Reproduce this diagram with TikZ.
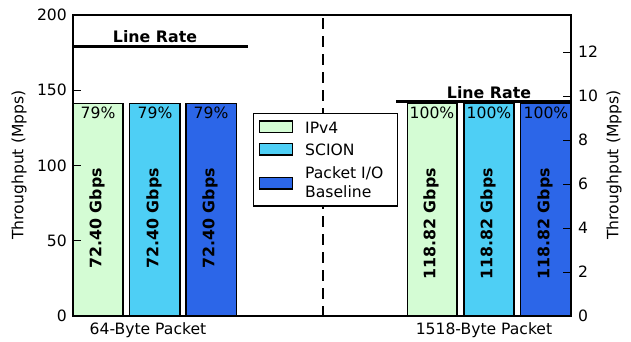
\documentclass[tikz,border=0pt]{standalone}
\usepackage{fontspec}
\setmainfont{DejaVu Sans}
\begin{document}
\begin{tikzpicture}[x=1pt,y=-1pt,
  lbl/.style={inner sep=0pt,font=\fontsize{15.6}{16}\selectfont},
  blbl/.style={inner sep=0pt,font=\fontsize{15.8}{16}\selectfont\bfseries},
  barbox/.style={draw=black,line width=1.6pt},
  tickmark/.style={line width=1pt},
  ratebar/.style={line width=2.8pt},
  patch/.style={draw=black,line width=1.5pt}]
\definecolor{ipv4c}{RGB}{212,252,212}
\definecolor{scionc}{RGB}{78,207,245}
\definecolor{basec}{RGB}{44,102,232}
\useasboundingbox (0,0) rectangle (631,341);

% bars, 64-byte group
\draw[barbox,fill=ipv4c]  (73.5,103.5) rectangle (123,316);
\draw[barbox,fill=scionc] (129.5,103.5) rectangle (180,316);
\draw[barbox,fill=basec]  (186,103.5) rectangle (236.5,316);
% bars, 1518-byte group
\draw[barbox,fill=ipv4c]  (407.5,103.5) rectangle (457,316);
\draw[barbox,fill=scionc] (464,103.5) rectangle (514,316);
\draw[barbox,fill=basec]  (520.5,103.5) rectangle (570.5,316);

% separator between the two groups
\coordinate (sepTop) at (323,18);
\coordinate (sepBot) at (323,316);
\draw[line width=1.6pt,dash pattern=on 11pt off 7pt] (sepTop) -- (sepBot);

% line rates
\coordinate (lrA) at (73,46.5);
\coordinate (lrB) at (248,46.5);
\draw[ratebar] (lrA) -- (lrB);
\node[blbl] (lrl) at (155,37) {Line Rate};
\coordinate (lrC) at (396,101.5);
\coordinate (lrD) at (571,101.5);
\draw[ratebar] (lrC) -- (lrD);
\node[blbl] (lrr) at (489,93) {Line Rate};

% percentages and rotated throughput labels
\foreach \x/\n in {98/a,155/b,211/c}{
  \node[lbl] (p\n) at (\x,113) {79\%};
  \node[blbl,rotate=90,anchor=east] (g\n) at (\x-1,168) {72.40 Gbps};
}
\foreach \x/\n in {432/d,489/e,546/f}{
  \node[lbl] (p\n) at (\x,113) {100\%};
  \node[blbl,rotate=90,anchor=east] (g\n) at (\x-1,168) {118.82 Gbps};
}

% axes frame
\draw[line width=1.8pt] (73,15) rectangle (571,316);

% left ticks
\foreach \v in {0,50,100,150,200}{
  \pgfmathsetmacro{\yy}{316-1.505*\v}
  \draw[tickmark] (73,\yy) -- (81,\yy);
  \node[lbl,anchor=east] (l\v) at (67,\yy) {\v};
}
% right ticks
\foreach \v in {0,2,4,6,8,10,12}{
  \pgfmathsetmacro{\yy}{316-22*\v}
  \draw[tickmark] (571,\yy) -- (563,\yy);
  \node[lbl,anchor=west] (r\v) at (578,\yy) {\v};
}

% axis titles
\node[lbl,rotate=90] (ylL) at (19,165) {Throughput (Mpps)};
\node[lbl,rotate=90] (ylR) at (614,165) {Throughput (Mpps)};
\node[lbl] (xa) at (148,330) {64-Byte Packet};
\node[lbl] (xb) at (484,330) {1518-Byte Packet};

% legend
\draw[line width=1.3pt,fill=white] (253.5,113.5) rectangle (397.5,206);
\draw[patch,fill=ipv4c]  (259.5,121) rectangle (292.5,132.5);
\draw[patch,fill=scionc] (259.5,143.5) rectangle (292.5,155);
\draw[patch,fill=basec]  (259.5,177.5) rectangle (292.5,189);
\node[lbl,anchor=base west] (k1) at (305,133) {IPv4};
\node[lbl,anchor=base west] (k2) at (305,155) {SCION};
\node[lbl,anchor=base west] (k3) at (305,178) {Packet I/O};
\node[lbl,anchor=base west] (k4) at (305,197) {Baseline};
\end{tikzpicture}
\end{document}
